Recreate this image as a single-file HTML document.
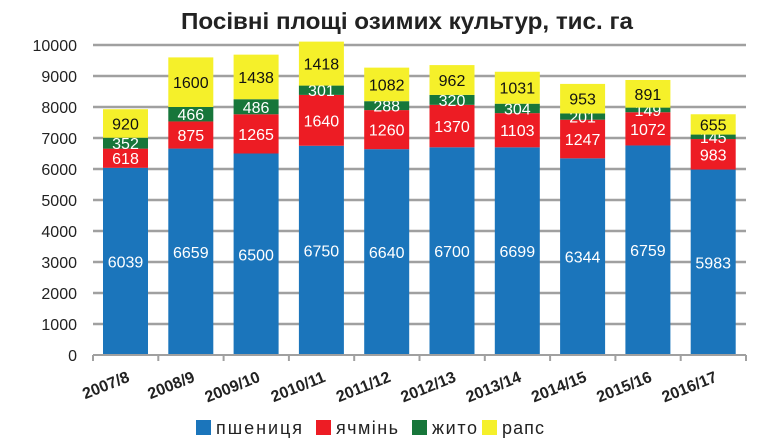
<!DOCTYPE html>
<html><head><meta charset="utf-8"><style>body{margin:0;background:#fff}svg{display:block}</style></head>
<body>
<svg width="765" height="443" xmlns="http://www.w3.org/2000/svg" font-family="Liberation Sans, DejaVu Sans, sans-serif">
<text x="407" y="29" text-anchor="middle" font-size="23" font-weight="bold" fill="#222" textLength="452" lengthAdjust="spacingAndGlyphs">Посівні площі озимих культур, тис. га</text>
<g id="grid" stroke="#a0a0a0" stroke-width="2.5"></g>
<g id="ylab" font-size="16" fill="#222" text-anchor="end"></g>
<g id="bars"></g>
<g id="xlab"></g>
<line x1="93" y1="355" x2="746" y2="355" stroke="#a0a0a0" stroke-width="2"/>
<g font-size="18" fill="#222">
<rect x="196" y="420" width="15" height="15" fill="#1b75bb"/><text x="216" y="434" textLength="86">пшениця</text>
<rect x="316" y="420" width="15" height="15" fill="#ed1c24"/><text x="336" y="434" textLength="62">ячмінь</text>
<rect x="412" y="420" width="15" height="15" fill="#17763a"/><text x="432" y="434" textLength="45">жито</text>
<rect x="482" y="420" width="15" height="15" fill="#f5f02a"/><text x="502" y="434" textLength="42">рапс</text>
</g>
<script>
var ns="http://www.w3.org/2000/svg";
function el(t,a,p,txt){var e=document.createElementNS(ns,t);for(var k in a)e.setAttribute(k,a[k]);if(txt!==undefined)e.textContent=txt;p.appendChild(e);return e;}
var g=document.getElementById('grid'),yl=document.getElementById('ylab'),b=document.getElementById('bars'),xl=document.getElementById('xlab');
function Y(v){return 355-v*0.031;}
for(var i=1;i<=10;i++){el('line',{x1:93,x2:746,y1:Y(i*1000),y2:Y(i*1000)},g);}
for(var i=0;i<=10;i++){el('text',{x:77,y:Y(i*1000)+6},yl,String(i*1000));}
for(var i=0;i<=10;i++){var x=93+i*65.3;el('line',{x1:x,x2:x,y1:355,y2:361,stroke:'#a0a0a0','stroke-width':2},g);}
var cats=['2007/8','2008/9','2009/10','2010/11','2011/12','2012/13','2013/14','2014/15','2015/16','2016/17'];
var d=[[6039,618,352,920],[6659,875,466,1600],[6500,1265,486,1438],[6750,1640,301,1418],[6640,1260,288,1082],[6700,1370,320,962],[6699,1103,304,1031],[6344,1247,201,953],[6759,1072,149,891],[5983,983,145,655]];
var cols=['#1b75bb','#ed1c24','#17763a','#f5f02a'];
for(var i=0;i<10;i++){
 var x0=93+i*65.3+10,w=45,cx=x0+w/2,acc=0;
 for(var s=0;s<4;s++){
  var v=d[i][s],y1=Y(acc),y2=Y(acc+v);
  el('rect',{x:x0,y:y2,width:w,height:y1-y2,fill:cols[s]},b);
  el('text',{x:cx,y:(y1+y2)/2+6,'text-anchor':'middle','font-size':16,fill:s==3?'#111':'#fff'},b,String(v));
  acc+=v;
 }
 var tx=cx+5,ty=381;
 el('text',{x:tx,y:ty,'text-anchor':'end','font-size':16,'font-weight':'bold',fill:'#222',transform:'rotate(-22 '+tx+' '+ty+')'},xl,cats[i]);
}
</script>
</svg>
</body></html>
